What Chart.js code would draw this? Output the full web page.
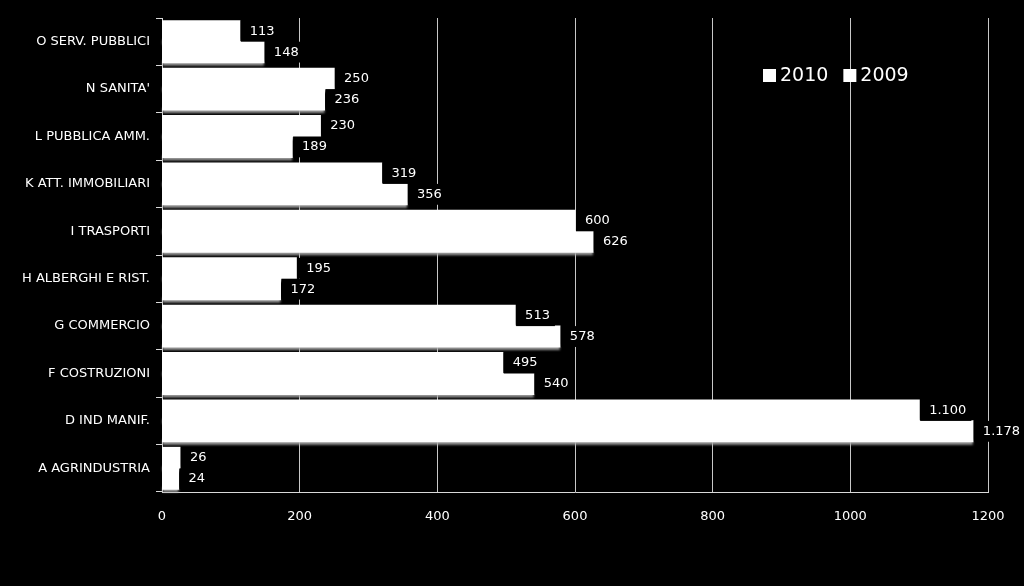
<!DOCTYPE html>
<html>
<head>
<meta charset="utf-8">
<script src="https://cdn.jsdelivr.net/npm/chart.js@4"></script>
<style>
  html, body { margin: 0; padding: 0; background: #000; }
  #wrap { width: 1024px; height: 586px; }
</style>
</head>
<body>
<div id="wrap"><canvas id="chart" width="1024" height="586"></canvas></div>
<script>
// Dati
const categories = ['O SERV. PUBBLICI', "N SANITA'", 'L PUBBLICA AMM.', 'K ATT. IMMOBILIARI',
  'I TRASPORTI', 'H ALBERGHI E RIST.', 'G COMMERCIO', 'F COSTRUZIONI', 'D IND MANIF.', 'A AGRINDUSTRIA'];
const values2010 = [113, 250, 230, 319, 600, 195, 513, 495, 1100, 26];
const values2009 = [148, 236, 189, 356, 626, 172, 578, 540, 1178, 24];
const seriesLabels = ['2010', '2009'];
const xTicks = [0, 200, 400, 600, 800, 1000, 1200];

const FONT = '"DejaVu Sans", sans-serif';

// formato italiano: 1.100
function fmt(v) {
  return String(v).replace(/\B(?=(\d{3})+(?!\d))/g, '.');
}

// ombra grigia sotto le barre (disegnata prima delle barre)
const shadowPlugin = {
  id: 'barShadow',
  beforeDatasetsDraw(chart) {
    const ctx = chart.ctx;
    ctx.save();
    ctx.filter = 'blur(1.2px)';
    ctx.fillStyle = 'rgba(170,170,170,0.9)';
    chart.data.datasets.forEach((ds, di) => {
      chart.getDatasetMeta(di).data.forEach(bar => {
        const h = bar.height;
        ctx.fillRect(bar.base, bar.y + h / 2 - 2, bar.x - bar.base, 5);
      });
    });
    ctx.restore();
  }
};

// etichette dei valori con sfondo nero + legenda interna
const valueLabels = {
  id: 'valueLabels',
  afterDatasetsDraw(chart) {
    const ctx = chart.ctx;
    ctx.save();
    ctx.font = '13px ' + FONT;
    ctx.textBaseline = 'middle';
    chart.data.datasets.forEach((ds, di) => {
      chart.getDatasetMeta(di).data.forEach((bar, i) => {
        const txt = fmt(ds.data[i]);
        const w = ctx.measureText(txt).width;
        const h = bar.height;
        ctx.fillStyle = '#000';
        ctx.fillRect(bar.x + 1, bar.y - h / 2, w + 14, h);
        ctx.fillStyle = '#fff';
        ctx.fillText(txt, bar.x + 10, bar.y);
      });
    });

    ctx.font = '19px ' + FONT;
    let x = 763;
    const y = 76;
    seriesLabels.forEach(lbl => {
      ctx.fillStyle = '#fff';
      ctx.fillRect(x, y - 7, 13, 13);
      ctx.fillText(lbl, x + 17, y);
      x += 17 + ctx.measureText(lbl).width + 15;
    });
    ctx.restore();
  }
};

new Chart(document.getElementById('chart'), {
  type: 'bar',
  data: {
    labels: categories,
    datasets: [
      { label: seriesLabels[0], data: values2010, backgroundColor: '#fff', borderWidth: 0, inflateAmount: 0.6 },
      { label: seriesLabels[1], data: values2009, backgroundColor: '#fff', borderWidth: 0, inflateAmount: 0.6 }
    ]
  },
  options: {
    indexAxis: 'y',
    responsive: false,
    animation: false,
    devicePixelRatio: 1,
    categoryPercentage: 0.88,
    barPercentage: 1,
    layout: { padding: { top: 18, right: 36, bottom: 0, left: 0 } },
    scales: {
      x: {
        min: 0,
        max: 1200,
        afterBuildTicks(scale) { scale.ticks = xTicks.map(v => ({ value: v })); },
        afterFit(scale) { scale.height = 94; },
        ticks: {
          color: '#fff',
          font: { size: 13, family: FONT },
          padding: 17,
          callback: v => String(v)
        },
        grid: { color: '#c8c8c8', drawTicks: false, lineWidth: 1 },
        border: { color: '#d9d9d9' }
      },
      y: {
        afterFit(scale) { scale.width = 162; },
        ticks: { color: '#fff', font: { size: 13, family: FONT }, padding: 6 },
        grid: { offset: true, drawOnChartArea: false, tickLength: 6, color: '#d9d9d9' },
        border: { color: '#d9d9d9' }
      }
    },
    plugins: {
      legend: { display: false },
      tooltip: { enabled: false }
    }
  },
  plugins: [shadowPlugin, valueLabels]
});
</script>
</body>
</html>
